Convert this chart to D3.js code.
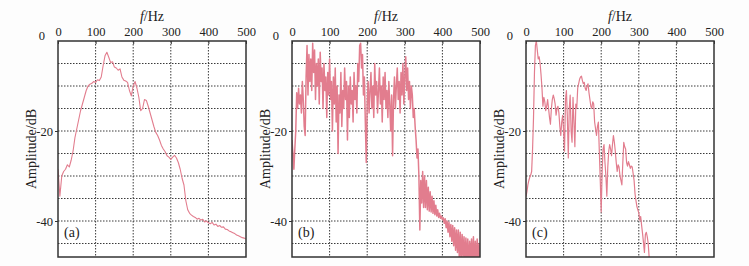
<!DOCTYPE html>
<html>
<head>
<meta charset="utf-8">
<script src="https://cdn.jsdelivr.net/npm/d3@7"></script>
<style>
    body { margin: 0; background: #fdfdfd; }
    svg text { font-family: "Liberation Serif", "Times New Roman", serif; fill: #222; }
    .grid line { stroke: #3a3a3a; stroke-width: 1; stroke-dasharray: 1.5,1.5; }
    .axis path, .axis line { stroke: #333; }
    .axis .domain { display: none; }
</style>
</head>
<body>
<div id="fig"></div>
<script>
'use strict';

// tick labels shared by the three panels
const freqTicks = [0, 100, 200, 300, 400, 500];
const ampTicks = [0, -20, -40];
const gridAmp = [-5, -10, -15, -20, -25, -30, -35, -40, -45];
const gridFreq = [100, 200, 300, 400];
const panelLabels = ['(a)', '(b)', '(c)'];

// (a) amplitude spectrum, sampled every 5 Hz from 0 to 500 Hz
const stepA = 5;
const ampA = [
    -28.5, -34.5, -30, -29, -28.5, -27.5, -28, -26.5, -24.5, -21.5,
    -19.5, -17.5, -15.5, -14, -12.5, -11, -10, -9.6, -9.4, -9,
    -9.2, -8.6, -8.8, -8, -5.5, -3.3, -2.5, -3.6, -4.8, -4.6,
    -5.8, -6, -6.5, -6.2, -8, -8.7, -8.9, -9.2, -11, -12.2,
    -10, -9, -10.5, -12.5, -15.5, -15, -13, -13.2, -14.5, -16,
    -17.5, -19, -20.3, -21, -22, -23.2, -24, -24.6, -25.5, -25.8,
    -26.3, -25.8, -25.4, -26, -27, -28.5, -30.5, -32, -35.5, -37.5,
    -38.3, -38.7, -39, -39.2, -39.6, -39.4, -39.8, -39.6, -40.2, -40,
    -40.4, -40.6, -40.3, -40.9, -40.7, -41.2, -41, -41.4, -41.3, -41.8,
    -41.9, -42.2, -42.4, -42.6, -42.8, -43.1, -43.3, -43.5, -43.7, -43.8,
    -44
];

// (b) amplitude spectrum, sampled every 2.5 Hz from 0 to 500 Hz
const stepB = 2.5;
const ampB = [
    -22, -25, -28.5, -24, -20, -11.5, -15, -10.5, -14, -12,
    -16, -9, -13, -19, -21, -8, -1, -12, -3, -9,
    -4, -11, -0.5, -7, -2, -13, -5, -10, -4, -14,
    -2.5, -9, -6, -15, -5, -11, -8, -17, -7, -12,
    -4, -13, -9, -20, -8, -14, -6, -18, -10, -25,
    -12, -16, -7, -19, -11, -15, -6, -13, -9, -22,
    -10, -17, -8, -14, -11, -18, -7, -13, -10, -16,
    -5, -9, -1, -0.5, -6, -3, -12, -8, -18, -27,
    -14, -9, -16, -11, -7, -15, -10, -17, -5, -12,
    -9, -16, -11, -6, -14, -10, -18, -8, -13, -7,
    -15, -11, -17, -9, -14, -20, -12, -25.5, -13, -8,
    -15, -10, -6, -13, -9, -16, -7, -12, -5, -14,
    -8, -3.5, -11, -6, -13, -9, -15, -10, -12, -17,
    -15, -19, -22, -26, -24, -30, -42, -31, -36, -29,
    -37, -30, -37, -31, -37.5, -32.5, -37.8, -33.5, -38, -34.5,
    -38.3, -35.5, -38.6, -36.5, -38.9, -37.5, -39.2, -38.3, -39.4, -38.9,
    -39.7, -39.3, -40.5, -39.5, -41.5, -40, -42.5, -40.3, -43.5, -40.8,
    -44.5, -41, -45.5, -41.5, -46.5, -42, -47, -42, -48.5, -42.5,
    -49, -43, -48, -43.5, -49.5, -43.8, -49, -44, -50, -44.5,
    -49, -44, -50, -43.5, -49.5, -44.5, -50, -44, -49, -45,
    -50
];

// (c) amplitude spectrum, sampled every 2.5 Hz from 0 to 330 Hz
const stepC = 2.5;
const ampC = [
    -34.6, -33.5, -32, -31, -30.3, -29.8, -29, -24, -17, -7,
    -1, 0, -2, -4, -3.5, -5, -7.5, -10.5, -14.5, -12.5,
    -13.5, -15.5, -14.5, -13, -15, -17, -18.5, -15, -13, -12,
    -12.8, -14, -16.5, -15, -14.5, -16, -19, -21, -18, -16.5,
    -20, -24.5, -13, -11, -17, -26, -15, -12, -20, -22.5,
    -12.5, -18, -23.5, -14, -15, -10.5, -9.5, -8.5, -8, -7.8,
    -8.8, -9.5, -9.2, -10.5, -11, -10, -9.5, -11.5, -13, -14.5,
    -15, -13.5, -14, -18, -19.5, -21, -19, -18, -24.5, -31,
    -38, -29, -24, -23, -27, -30, -34.5, -28, -24.5, -23,
    -24, -25.5, -23, -21, -22.5, -24.5, -27, -29, -27.5, -28,
    -30, -31, -32, -27, -22.5, -23.5, -24, -27, -27.8, -26.8,
    -27.5, -28.3, -27.8, -28, -29.5, -31, -34, -35.5, -36.8, -37.5,
    -38.2, -39.8, -39, -41, -42.8, -44.8, -47, -43, -42.5, -43.5,
    -45, -48, -50
];

const svgWidth = 749, svgHeight = 266;
const plotTop = 41, plotWidth = 188, plotHeight = 216;
const panelLefts = [58, 292, 526];     // left edge of each plot area
const lineWidths = [1.1, 1.5, 1.2];    // (b) is denser so it reads heavier
const lineColour = '#e27d8e';

const svg = d3.select('#fig')
    .append('svg')
    .attr('width', svgWidth)
    .attr('height', svgHeight);

/*
Draws one panel: grid, spectrum line, frame, top frequency axis,
left amplitude axis and titles
*/
function drawPanel(index, amps, step) {
    const left = panelLefts[index];

    const scaleX = d3.scaleLinear([0, 500], [0, plotWidth]);
    const scaleY = d3.scaleLinear([-48, 0], [plotHeight, 0]);

    const g = svg.append('g')
        .attr('transform', `translate(${left},${plotTop})`);

    g.append('rect')
        .attr('width', plotWidth)
        .attr('height', plotHeight)
        .attr('fill', '#fff');

    // dotted grid
    const grid = g.append('g').classed('grid', true);
    grid.selectAll('.h').data(gridAmp).join('line')
        .attr('x1', 0).attr('x2', plotWidth)
        .attr('y1', d => scaleY(d)).attr('y2', d => scaleY(d));
    grid.selectAll('.v').data(gridFreq).join('line')
        .attr('y1', 0).attr('y2', plotHeight)
        .attr('x1', d => scaleX(d)).attr('x2', d => scaleX(d));

    // clip the spectrum to the plot area
    const clipId = `clip-${index}`;
    g.append('clipPath').attr('id', clipId)
        .append('rect')
        .attr('width', plotWidth)
        .attr('height', plotHeight);

    const points = amps.map((a, i) => [i * step, a]);
    const line = d3.line()
        .x(d => scaleX(d[0]))
        .y(d => scaleY(d[1]));

    g.append('path')
        .datum(points)
        .attr('clip-path', `url(#${clipId})`)
        .attr('fill', 'none')
        .attr('stroke', lineColour)
        .attr('stroke-width', lineWidths[index])
        .attr('stroke-linejoin', 'round')
        .attr('d', line);

    // frame
    g.append('rect')
        .attr('width', plotWidth)
        .attr('height', plotHeight)
        .attr('fill', 'none')
        .attr('stroke', '#333')
        .attr('stroke-width', 1.5);

    // axes - top ticks point into the plot
    g.append('g').classed('axis', true)
        .call(d3.axisTop(scaleX).tickValues(freqTicks).tickSize(-3).tickPadding(5))
        .selectAll('text').style('font-size', '12.5px');

    const yAxis = g.append('g').classed('axis', true)
        .call(d3.axisLeft(scaleY).tickValues(ampTicks).tickSize(3).tickPadding(2)
            .tickFormat(d => String(d)));
    yAxis.selectAll('text').style('font-size', '12.5px');
    // the "0" sits a little up and left of the corner
    yAxis.selectAll('.tick').filter(d => d === 0).select('text')
        .attr('x', -13).attr('dy', '-0.1em');
    yAxis.selectAll('.tick').filter(d => d === 0).select('line').remove();

    // axis titles
    const title = g.append('text')
        .attr('x', plotWidth / 2)
        .attr('y', -20)
        .attr('text-anchor', 'middle')
        .style('font-size', '14px');
    title.append('tspan').style('font-style', 'italic').text('f');
    title.append('tspan').text('/Hz');

    g.append('text')
        .attr('transform', `translate(-22,${plotHeight / 2}) rotate(-90)`)
        .attr('text-anchor', 'middle')
        .style('font-size', '14px')
        .text('Amplitude/dB');

    // panel label
    g.append('text')
        .attr('x', 6)
        .attr('y', 196)
        .style('font-size', '14px')
        .text(panelLabels[index]);
}

drawPanel(0, ampA, stepA);
drawPanel(1, ampB, stepB);
drawPanel(2, ampC, stepC);
</script>
</body>
</html>
